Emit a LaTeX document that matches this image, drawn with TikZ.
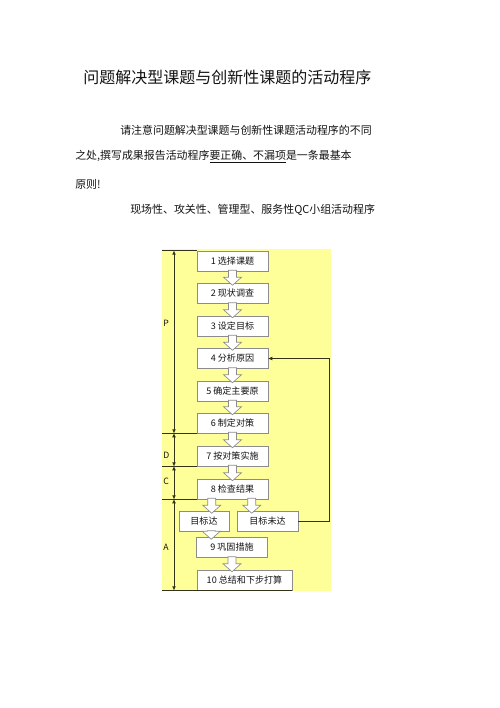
\documentclass[tikz,border=0pt]{standalone}
\usepackage{fontspec}
\setmainfont{Noto Sans CJK SC}
\usepackage{tikz}
\usetikzlibrary{positioning, calc, arrows.meta}

\definecolor{padyellow}{HTML}{FFFF99}
\definecolor{framegray}{HTML}{8C8C8C}
\definecolor{bracketline}{HTML}{33331A}
\definecolor{inkgray}{HTML}{141414}

% hollow block arrow from a box bottom to the next box top
\newcommand{\hollowarrow}[2]{%
  \draw[hollowtip] ($(#1)+(-4,-1)$) -- ($(#1)+(4,-1)$) -- ($(#1 |- #2)+(4,-6)$)
    -- ($(#1 |- #2)+(9,-6)$) -- ($(#1 |- #2)+(0,2)$) -- ($(#1 |- #2)+(-9,-6)$)
    -- ($(#1 |- #2)+(-4,-6)$) -- cycle;}

\begin{document}
\begin{tikzpicture}[x=0.75pt, y=-0.75pt,
        stepbox/.style={draw=framegray, fill=white, minimum width=53.25pt, minimum height=15pt, inner sep=0pt, text=inkgray, font=\fontsize{6.8}{8}\selectfont},
        hollowtip/.style={draw=framegray, fill=white, line width=0.5pt},
        bracket/.style={draw=bracketline, line width=0.75pt},
        span/.style={bracket, {Triangle[length=3pt, width=2.4pt]}-{Triangle[length=3pt, width=2.4pt]}},
        loopback/.style={bracket, -{Triangle[length=3pt, width=2.4pt]}},
        grouplabel/.style={anchor=west, inner sep=0pt, text=inkgray, font=\fontsize{6.5}{7}\selectfont},
        bodytext/.style={anchor=west, inner sep=0pt, text=inkgray, font=\fontsize{8.2}{10}\selectfont}
    ]
        \useasboundingbox (0,0) rectangle (500,708);
        \fill[white] (0,0) rectangle (500,708);

        % heading and notes
        \node[anchor=west, inner sep=0pt, text=inkgray, font=\fontsize{12}{14}\selectfont] (title) at (83,77) {问题解决型课题与创新性课题的活动程序};
        \node[bodytext] (note1) at (120,130) {请注意问题解决型课题与创新性课题活动程序的不同};
        \node[bodytext] (note2) at (75,157) {之处,撰写成果报告活动程序\underline{要正确、不漏项}是一条最基本};
        \node[bodytext] (note3) at (75,184) {原则!};
        \node[bodytext] (caption) at (130,210) {现场性、攻关性、管理型、服务性QC小组活动程序};

        % yellow panel
        \fill[padyellow] (162,249) rectangle (331,591);
        \coordinate (edge) at (162,0);
        \coordinate (axis) at (174,0);
        \coordinate (turn) at (329,0);

        % steps
        \node[stepbox] (b1) at (232.5,261) {1 选择课题};
        \node[stepbox] (b2) at (232.5,293.5) {2 现状调查};
        \node[stepbox] (b3) at (232.5,326) {3 设定目标};
        \node[stepbox] (b4) at (232.5,358.5) {4 分析原因};
        \node[stepbox] (b5) at (232.5,391) {5 确定主要原};
        \node[stepbox] (b6) at (232.5,423) {6 制定对策};
        \node[stepbox] (b7) at (232.5,456) {7 按对策实施};
        \node[stepbox] (b8) at (232.5,489) {8 检查结果};
        \node[stepbox, minimum width=37.5pt] (ok) at (204,521.5) {目标达};
        \node[stepbox, minimum width=45.75pt] (notok) at (267.5,521.5) {目标未达};
        \node[stepbox] (b9) at (232,547.5) {9 巩固措施};
        \node[stepbox, minimum width=71.25pt] (b10) at (244.5,580) {10 总结和下步打算};

        % block arrows
        \hollowarrow{b1.south}{b2.north}
        \hollowarrow{b2.south}{b3.north}
        \hollowarrow{b3.south}{b4.north}
        \hollowarrow{b4.south}{b5.north}
        \hollowarrow{b5.south}{b6.north}
        \hollowarrow{b6.south}{b7.north}
        \hollowarrow{b7.south}{b8.north}
        \coordinate (s8l) at ($(b8.south west)+(15,0)$);
        \coordinate (s8r) at ($(b8.south west)+(55,0)$);
        \hollowarrow{s8l}{ok.north}
        \hollowarrow{s8r}{notok.north}
        \coordinate (okout) at ($(ok.south -| b9.west)+(15,0)$);
        \hollowarrow{okout}{b9.north}
        \hollowarrow{b9.south}{b10.north}

        % PDCA brackets
        \draw[bracket] (b1.north west) -- (b1.north west -| edge);
        \draw[bracket] (b6.south west) -- (b6.south west -| edge);
        \draw[bracket] (b7.south west) -- (b7.south west -| edge);
        \draw[bracket] (b8.south west) -- (b8.south west -| edge);
        \draw[bracket] (b10.south east) -- (b10.south east -| edge);
        \draw[span] (b1.north west -| axis) -- (b6.south west -| axis);
        \draw[span] (b6.south west -| axis) -- (b7.south west -| axis);
        \draw[span] (b7.south west -| axis) -- (b8.south west -| axis);
        \draw[span] (b8.south west -| axis) -- (b10.south east -| axis);
        \node[grouplabel] (lblP) at (163,323) {P};
        \node[grouplabel] (lblD) at (163,455) {D};
        \node[grouplabel] (lblC) at (163,481) {C};
        \node[grouplabel] (lblA) at (163,547) {A};

        % back to cause analysis
        \draw[loopback] (notok.east) -- (notok.east -| turn) |- (b4.east);
    \end{tikzpicture}
\end{document}
